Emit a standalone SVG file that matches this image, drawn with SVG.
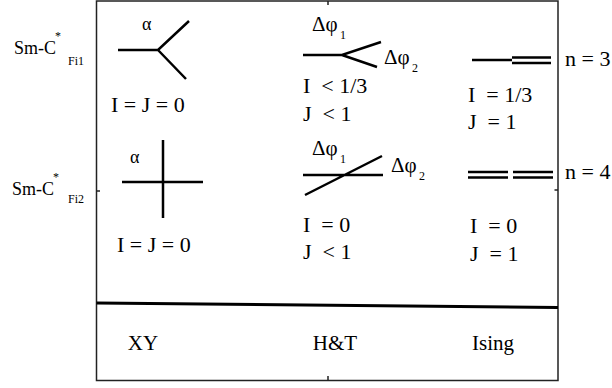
<svg xmlns="http://www.w3.org/2000/svg" width="612" height="388" viewBox="0 0 612 388">
<style>
.t{font-size:22px;}
.c{font-size:21px;}
.r{font-size:18px;}
.s{font-size:12px;}
.g{font-size:18px;}
.ln{stroke:#000;stroke-width:2.5;fill:none;stroke-linecap:butt;}
.fr{stroke:#222;stroke-width:1.5;fill:none;}
</style>
<rect width="612" height="388" fill="#fff"/>
<g id="frame">
<path class="fr" d="M96.5,1 H558 V380.5 H96.5 Z"/>
<path class="fr" d="M328,1 V5 M328,380.5 V376 M96.5,191 H100 M558,190 H554.5"/>
<path d="M96.5,303 L558,307.5" stroke="#000" stroke-width="3" fill="none"/>
</g>
<g style="font-family:'Liberation Serif','DejaVu Serif',serif" fill="#000">
<g id="row-labels">
<text class="r" x="14" y="54">Sm-C</text><text class="s" x="55" y="40">*</text><text class="s" x="68" y="65">Fi1</text>
<text class="r" x="12" y="195">Sm-C</text><text class="s" x="53" y="181">*</text><text class="s" x="68" y="203">Fi2</text>
<text class="t" x="565" y="66">n = 3</text>
<text class="t" x="565" y="179">n = 4</text>
</g>
<g id="xy-fi1">
<text class="g" x="142" y="30">α</text>
<path class="ln" d="M118,50 H158 L189,21 M158,50 L186,79"/>
<text class="t" x="111" y="112">I = J = 0</text>
</g>
<g id="ht-fi1">
<text class="c" x="312" y="31">Δφ</text><text class="s" x="340" y="39">1</text>
<path class="ln" d="M303,55 H342 L381,42 M342,55 L377,67"/>
<text class="c" x="384" y="64">Δφ</text><text class="s" x="412" y="72">2</text>
<text class="t" x="303" y="93">I&#160; &lt; 1/3</text>
<text class="t" x="303" y="121">J&#160; &lt; 1</text>
</g>
<g id="ising-fi1">
<path class="ln" d="M472,60 H512 M512,57.5 H551 M512,63 H551"/>
<text class="t" x="468" y="102">I&#160; = 1/3</text>
<text class="t" x="468" y="129">J&#160; = 1</text>
</g>
<g id="xy-fi2">
<text class="g" x="130" y="163">α</text>
<path class="ln" d="M122,182 H203 M163,140 V218"/>
<text class="t" x="117" y="252">I = J = 0</text>
</g>
<g id="ht-fi2">
<text class="c" x="312" y="155">Δφ</text><text class="s" x="340" y="163">1</text>
<path class="ln" d="M303,175 H383 M305,195 L382,156"/>
<text class="c" x="391" y="172">Δφ</text><text class="s" x="419" y="180">2</text>
<text class="t" x="303" y="232">I&#160; = 0</text>
<text class="t" x="303" y="259">J&#160; &lt; 1</text>
</g>
<g id="ising-fi2">
<path class="ln" d="M468,172 H508 M468,177.5 H508 M513,172 H553 M513,177.5 H553"/>
<text class="t" x="470" y="233">I&#160; = 0</text>
<text class="t" x="470" y="261">J&#160; = 1</text>
</g>
<g id="columns">
<text class="c" x="143" y="350" text-anchor="middle">XY</text>
<text class="c" x="335" y="350" text-anchor="middle">H&amp;T</text>
<text class="c" x="493" y="350" text-anchor="middle">Ising</text>
</g>
</g>
<g id="connectors"></g>
</svg>
